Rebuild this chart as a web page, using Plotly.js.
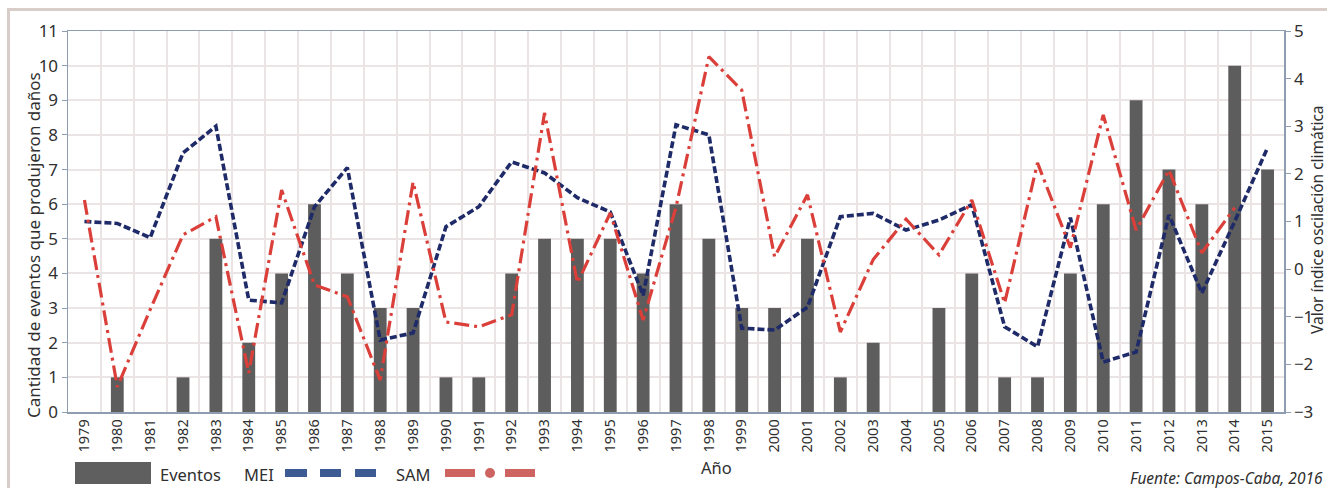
<!DOCTYPE html>
<html>
<head>
<meta charset="utf-8">
<script src="https://cdn.plot.ly/plotly-3.0.1.min.js"></script>
<style>
  html, body { margin: 0; padding: 0; background: #ffffff; overflow: hidden; }
  #frame { position: absolute; left: 7px; top: 8px; width: 1400px; height: 600px;
           border-left: 3px solid #d8cdc8; border-top: 3px solid #d8cdc8; z-index: 0; }
  #chart { position: absolute; left: 0; top: 0; width: 1327px; height: 488px; z-index: 1; }
</style>
</head>
<body>
<div id="frame"></div>
<div id="chart"></div>
<script>
// ---- data ----
const years = ["1979","1980","1981","1982","1983","1984","1985","1986","1987","1988",
               "1989","1990","1991","1992","1993","1994","1995","1996","1997","1998",
               "1999","2000","2001","2002","2003","2004","2005","2006","2007","2008",
               "2009","2010","2011","2012","2013","2014","2015"];
const eventos = [0,1,0,1,5,2,4,6,4,3,
                 3,1,1,4,5,5,5,4,6,5,
                 3,3,5,1,2,0,3,4,1,1,
                 4,6,9,7,6,10,7];
const mei = [1.0,0.96,0.66,2.44,3.0,-0.65,-0.71,1.31,2.13,-1.49,
             -1.34,0.89,1.31,2.25,2.02,1.5,1.2,-0.55,3.03,2.82,
             -1.24,-1.28,-0.8,1.1,1.17,0.82,1.03,1.35,-1.21,-1.63,
             1.08,-1.95,-1.74,1.14,-0.5,1.0,2.55];
const sam = [1.45,-2.47,-0.85,0.72,1.1,-2.18,1.66,-0.33,-0.58,-2.33,
             1.83,-1.11,-1.21,-0.96,3.28,-0.29,1.18,-1.07,1.3,4.46,
             3.76,0.26,1.56,-1.32,0.2,1.05,0.3,1.45,-0.71,2.23,
             0.45,3.24,0.82,2.08,0.34,1.29,null];
const leftTicks = [0,1,2,3,4,5,6,7,8,9,10,11];
const rightTicks = [-3,-2,-1,0,1,2,3,4,5];

// ---- layout geometry ----
const W = 1327, H = 488;
const M = {l: 68, r: 43, t: 31, b: 76};
const PW = W - M.l - M.r, PH = H - M.t - M.b;
const X = px => (px - M.l) / PW;
const Y = py => (H - M.b - py) / PH;
const FONT = "Noto Sans, Open Sans, sans-serif";
const AXC = "#8e9daf";
const GRID = "#ebe4e4";

const traces = [
  {type: "bar", x: years, y: eventos, name: "Eventos", yaxis: "y",
   marker: {color: "#5d5d5d"}, width: 0.39, showlegend: false},
  {type: "scatter", mode: "lines", x: years, y: mei, name: "MEI", yaxis: "y2",
   line: {color: "#1f2a68", width: 3.6, dash: "7px,3px"}, showlegend: false},
  {type: "scatter", mode: "lines", x: years, y: sam, name: "SAM", yaxis: "y2",
   line: {color: "#da3f3a", width: 3.2, dash: "15px,5px,3px,5px"}, showlegend: false}
];

function rect(x0, x1, y0, y1, color) {
  return {type: "rect", xref: "paper", yref: "paper", x0: X(x0), x1: X(x1), y0: Y(y1), y1: Y(y0),
          fillcolor: color, line: {width: 0}};
}
const shapes = [
  rect(75, 151, 462, 484, "#5f5f5f"),
  rect(285, 307, 469, 477, "#3d5a92"),
  rect(320, 341, 469, 477, "#3d5a92"),
  rect(355, 376, 469, 477, "#3d5a92"),
  rect(445, 475, 469, 477, "#cd6461"),
  rect(505, 535, 469, 477, "#cd6461"),
  {type: "circle", xref: "paper", yref: "paper", x0: X(485), x1: X(495), y0: Y(478), y1: Y(468),
   fillcolor: "#cd6461", line: {width: 0}}
];

function ann(text, px, py, xanchor, size, extra) {
  return Object.assign({text: text, xref: "paper", yref: "paper", x: X(px), y: Y(py),
    xanchor: xanchor, yanchor: "middle", showarrow: false,
    font: {family: FONT, size: size, color: "#2f2f2f"}}, extra || {});
}
const annotations = [
  ann("Eventos", 158, 474, "left", 16.5),
  ann("MEI", 242, 474, "left", 16.5),
  ann("SAM", 394, 474, "left", 16.5),
  ann("Año", 716, 467, "center", 16.5),
  ann("<i>Fuente: Campos-Caba, 2016</i>", 1325, 478, "right", 15.5),
  ann("Cantidad de eventos que produjeron daños", 33, 245, "center", 17, {textangle: -90}),
  ann("Valor índice oscilación climática", 1317, 220, "center", 15.5, {textangle: -90})
];

const layout = {
  width: W, height: H,
  margin: M,
  paper_bgcolor: "rgba(0,0,0,0)",
  plot_bgcolor: "#ffffff",
  font: {family: FONT, color: "#2f2f2f"},
  xaxis: {
    type: "category", tickson: "boundaries", ticks: "", tickangle: -90,
    tickfont: {size: 14.5, family: FONT, color: "#2f2f2f"},
    showgrid: true, gridcolor: GRID, gridwidth: 2,
    showline: true, linecolor: AXC, linewidth: 1.5, mirror: true,
    automargin: false
  },
  yaxis: {
    range: [0, 11], tickvals: leftTicks, ticks: "outside", ticklen: 5, tickcolor: AXC,
    tickfont: {size: 17, family: FONT, color: "#2f2f2f"},
    showgrid: true, gridcolor: GRID, gridwidth: 2, zeroline: false,
    showline: true, linecolor: AXC, linewidth: 1.5,
    automargin: false
  },
  yaxis2: {
    overlaying: "y", side: "right", range: [-3, 5], tickvals: rightTicks,
    ticks: "outside", ticklen: 5, tickcolor: AXC,
    tickfont: {size: 17, family: FONT, color: "#2f2f2f"},
    showgrid: false, zeroline: false,
    showline: true, linecolor: AXC, linewidth: 1.5,
    automargin: false
  },
  shapes: shapes,
  annotations: annotations,
  showlegend: false
};

Plotly.newPlot("chart", traces, layout, {displayModeBar: false, staticPlot: true});
</script>
</body>
</html>
